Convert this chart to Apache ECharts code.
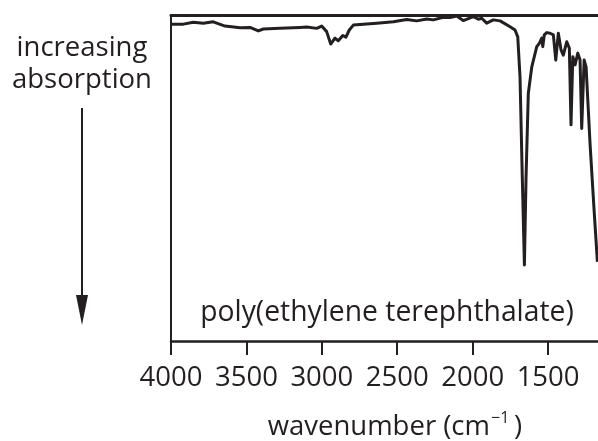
<!DOCTYPE html>
<html><head><meta charset="utf-8">
<script src="https://cdn.jsdelivr.net/npm/echarts@6/dist/echarts.min.js"></script>
<style>html,body{margin:0;padding:0;background:#fff}#c{width:598px;height:441px}</style>
</head><body><div id="c"></div>
<script>
// wavenumber (cm-1)
const wavenumbers = [4000,3918,3852,3786,3720,3642,3542,3476,3421,3388,3277,3145,3100,3034,3001,2968,2941,2913,2891,2861,2840,2818,2791,2636,2526,2437,2371,2304,2261,2194,2150,2106,2062,1995,1962,1940,1907,1863,1818,1752,1719,1701,1686,1671,1657,1646,1631,1608,1575,1558,1542,1535,1525,1509,1487,1465,1449,1432,1414,1399,1376,1359,1348,1336,1321,1303,1288,1277,1261,1248,1222,1195,1173];
// relative transmittance (100 = top of frame, 0 = bottom)
const transmittance = [97.2,97.2,97.8,97.5,97.9,96.6,96.1,96.2,95.1,95.7,95.9,96.2,96.3,95.9,96.6,94.9,91.1,92.9,92.1,93.7,93.2,95.4,96.9,97.5,97.9,98.6,98.2,98.8,98.5,99.3,99.2,99.7,98.3,99.5,98.7,99.0,97.5,98.5,98.2,96.4,95.4,93.3,81.0,50.4,23.3,50.4,76.0,84.1,90.3,91.3,92.9,90.3,93.9,94.6,94.4,93.9,86.2,94.4,89.3,87.7,91.8,89.8,66.3,87.2,84.7,88.3,86.2,65.2,86.2,84.1,60.7,40.2,24.3];
const tickValues = [4000,3500,3000,2500,2000,1500];
const sampleName = 'poly(ethylene terephthalate)';
const xTitle = 'wavenumber (cm';
const xTitleSup = '\u22121';
const yNote = ['increasing','absorption'];

const ink = '#231f20';
const fam = '"Open Sans", "Noto Sans", sans-serif';
const F = (s)=>'500 '+s+'px '+fam;
const chart = echarts.init(document.getElementById('c'), null, {renderer:'canvas'});
const data = wavenumbers.map((w,i)=>[w, transmittance[i]]);
chart.setOption({
  animation:false,
  grid:{left:171, right:0, top:15, bottom:100},
  xAxis:[{
    type:'value', inverse:true, min:1169, max:4000,
    axisLine:{show:true, lineStyle:{color:ink, width:2.5}},
    axisTick:{show:true, inside:false, length:14, customValues:tickValues, lineStyle:{color:ink, width:2}},
    axisLabel:{show:true, customValues:tickValues, margin:23, color:ink, fontSize:27.5, fontWeight:500, fontFamily:fam, formatter:(v)=>String(v)},
    splitLine:{show:false}
  },{
    type:'value', inverse:true, min:1169, max:4000, position:'top',
    axisLine:{show:true, lineStyle:{color:ink, width:3}},
    axisTick:{show:false}, axisLabel:{show:false}, splitLine:{show:false}
  }],
  yAxis:{
    type:'value', min:0, max:100,
    axisLine:{show:true, lineStyle:{color:ink, width:2}},
    axisTick:{show:false}, axisLabel:{show:false}, splitLine:{show:false}
  },
  series:[{
    type:'line', data:data, showSymbol:false, smooth:false,
    lineStyle:{color:ink, width:3, join:'round'}
  }],
  graphic:[
    {type:'text', x:387, y:313, style:{text:sampleName, fill:ink, font:F(28.3), textAlign:'center', textVerticalAlign:'middle'}},
    {type:'text', x:490, y:427, style:{text:xTitle, fill:ink, font:F(27.5), textAlign:'right', textVerticalAlign:'middle'}},
    {type:'text', x:491, y:418, style:{text:xTitleSup, fill:ink, font:F(16), textAlign:'left', textVerticalAlign:'middle'}},
    {type:'text', x:514, y:427, style:{text:')', fill:ink, font:F(27.5), textAlign:'left', textVerticalAlign:'middle'}},
    {type:'text', x:82, y:48, style:{text:yNote[0], fill:ink, font:F(27.5), textAlign:'center', textVerticalAlign:'middle'}},
    {type:'text', x:82, y:80, style:{text:yNote[1], fill:ink, font:F(27.5), textAlign:'center', textVerticalAlign:'middle'}},
    {type:'line', shape:{x1:82, y1:108, x2:82, y2:300}, style:{stroke:ink, lineWidth:2}},
    {type:'polygon', shape:{points:[[76,295],[88,295],[82,325]]}, style:{fill:ink}}
  ]
});
</script></body></html>
